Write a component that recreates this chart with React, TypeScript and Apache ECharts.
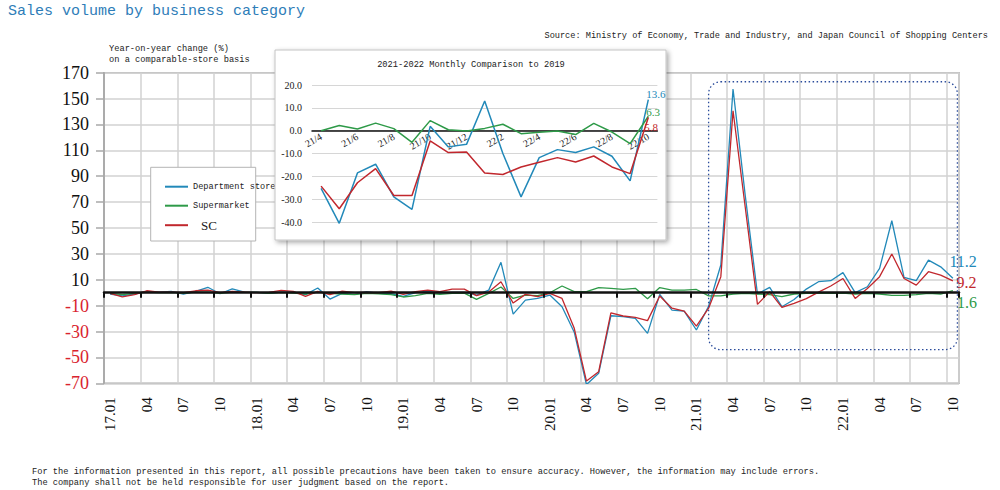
import React, { useEffect, useRef } from "react";
import * as echarts from "echarts";

// ---------- data ----------
const years = ["17", "18", "19", "20", "21", "22"];
const monthCodes = ["01", "02", "03", "04", "05", "06", "07", "08", "09", "10", "11", "12"];
const categories: string[] = [];
for (const y of years) {
  for (const m of monthCodes) {
    if (y === "22" && Number(m) > 10) break;
    categories.push(`${y}.${m}`);
  }
}

// Year-on-year change (%), 17.01 .. 22.10
const deptStore = [
  -1.0, -2.5, -1.0, 1.0, 0.5, 1.0, -1.0, 1.0, 4.2, -0.8, 3.0, 0.5,
  0.2, -0.5, 0.5, 0.5, -1.5, 3.6, -4.9, -0.5, -1.3, 0.8, -0.5, -0.8,
  -2.8, 0.0, 1.3, -0.3, 0.2, 0.2, -1.8, 2.0, 23.5, -16.5, -5.7, -4.4,
  -1.8, -10.8, -30.5, -71.0, -62.3, -17.8, -18.5, -19.8, -31.4, -1.3, -13.4, -14.2,
  -28.8, -10.5, 21.4, 157.4, 75.0, -1.0, 4.1, -10.8, -5.2, 2.8, 8.5, 9.3,
  15.5, 0.0, 4.6, 18.8, 55.6, 11.8, 9.3, 25.2, 20.0, 11.2,
];
const supermarket = [
  -0.5, -1.5, -0.5, 0.5, 0.0, 0.3, -0.5, 0.5, 0.5, -0.5, 0.5, 0.2,
  0.3, -0.5, 0.3, -0.3, -1.0, 0.5, -0.5, -1.0, -1.5, -0.5, -0.8, -1.5,
  -3.3, -2.3, -0.5, -1.2, -0.5, -0.3, -5.1, -0.5, 4.4, -4.4, -1.8, -2.3,
  0.0, 5.2, 0.8, 0.8, 4.0, 3.4, 2.6, 3.4, -4.6, 4.0, 2.0, 2.0,
  2.5, -2.5, -2.5, -1.0, -0.5, -1.0, -1.5, -3.0, -1.0, -0.5, -0.5, -0.5,
  -0.3, -1.0, -0.5, -1.0, -2.0, -2.0, -1.5, -0.5, -1.0, 1.6,
];
const shoppingCenter = [
  -0.5, -3.3, -1.5, 1.5, 0.5, 0.5, 0.0, 1.5, 2.0, 0.0, 1.0, 0.5,
  0.0, 0.3, 1.8, 1.0, -2.8, 1.0, -1.5, 1.3, 0.0, 0.3, 0.0, 1.3,
  -1.3, 0.8, 2.0, 0.8, 2.8, 2.8, -2.3, 0.5, 8.5, -8.0, -1.3, -3.0,
  -0.5, -4.4, -27.5, -68.3, -61.0, -15.5, -18.0, -19.0, -21.6, -2.6, -12.0, -14.2,
  -25.8, -12.0, 12.4, 140.6, 66.0, -9.0, 0.8, -11.3, -8.2, -4.6, 0.5, 5.2,
  11.0, -4.4, 3.3, 12.4, 29.9, 11.0, 5.9, 16.2, 13.6, 9.2,
];

// inset: 2021-2022 vs 2019
const insetCategories = [
  "21/4", "21/5", "21/6", "21/7", "21/8", "21/9", "21/10", "21/11", "21/12",
  "22/1", "22/2", "22/3", "22/4", "22/5", "22/6", "22/7", "22/8", "22/9", "22/10",
];
const insetDept = [-25.3, -40.6, -18.5, -14.7, -29.0, -34.5, 1.9, -7.1, -6.0, 13.0, -10.0, -29.0, -11.8, -8.3, -9.6, -7.1, -11.2, -22.0, 13.6];
const insetSC = [-24.3, -34.2, -22.8, -16.6, -28.4, -28.4, -4.5, -9.6, -9.3, -18.5, -19.2, -15.9, -13.8, -11.8, -13.7, -11.1, -15.9, -18.8, 5.8];
const insetSuper = [0.0, 2.3, 0.7, 3.3, 0.9, -5.1, 4.4, 0.4, -0.1, 1.0, 2.8, -1.3, -0.7, -0.1, -1.7, 3.2, -0.6, -5.7, 6.3];

const seriesNames = ["Department store", "Supermarket", "SC"];

// ---------- styles ----------
const SERIF = '"Liberation Serif", "Times New Roman", serif';
const MONO = '"Liberation Mono", "DejaVu Sans Mono", monospace';
const BLUE = "#2289B9";
const GREEN = "#2E9A48";
const RED = "#C1272D";

// inset plot geometry
const INSET_LEFT = 312;
const INSET_WIDTH = 345.4;
const INSET_TOP = 85;
const INSET_HEIGHT = 137;
const INSET_MIN = -40;
const INSET_MAX = 20;

function endLabel(color: string, offset: number[], fontSize: number) {
  return {
    show: true,
    distance: 5,
    offset,
    color,
    fontSize,
    fontFamily: SERIF,
    formatter: "{c}",
  };
}

function mainLine(name: string, color: string, data: number[], offset: number[]) {
  return {
    name,
    type: "line",
    xAxisIndex: 0,
    yAxisIndex: 0,
    color,
    symbol: "none",
    lineStyle: { width: 1.3, color },
    data,
    endLabel: endLabel(color, offset, 16),
    z: 2,
  };
}

function insetLine(name: string, color: string, data: number[], offset: number[]) {
  return {
    name,
    type: "line",
    xAxisIndex: 2,
    yAxisIndex: 1,
    color,
    symbol: "none",
    clip: false,
    lineStyle: { width: 1.5, color },
    data,
    endLabel: endLabel(color, offset, 11),
    z: 70,
  };
}

export default function App() {
  const ref = useRef<HTMLDivElement>(null);

  useEffect(() => {
    document.body.style.margin = "0";
    if (!ref.current) return;
    const chart = echarts.init(ref.current, null, { renderer: "svg" });

    const staticGraphics: any[] = [
      {
        id: "yTitle",
        type: "text",
        x: 109,
        y: 43.5,
        z: 5,
        style: {
          text: "Year-on-year change (%)\non a comparable-store basis",
          fontFamily: MONO,
          fontSize: 8.7,
          lineHeight: 11,
          fill: "#222",
          align: "left",
          verticalAlign: "top",
        },
      },
      {
        id: "source",
        type: "text",
        x: 988,
        y: 36,
        style: {
          text: "Source: Ministry of Economy, Trade and Industry, and Japan Council of Shopping Centers",
          fontFamily: MONO,
          fontSize: 8.6,
          fill: "#222",
          align: "right",
          verticalAlign: "middle",
        },
      },
      {
        id: "footer",
        type: "text",
        x: 32,
        y: 466,
        style: {
          text:
            "For the information presented in this report, all possible precautions have been taken to ensure accuracy. However, the information may include errors.\nThe company shall not be held responsible for user judgment based on the report.",
          fontFamily: MONO,
          fontSize: 8.7,
          lineHeight: 11,
          fill: "#222",
          align: "left",
          verticalAlign: "top",
        },
      },
      {
        id: "legendBox",
        type: "rect",
        z: 15,
        shape: { x: 150.7, y: 167.3, width: 105, height: 73.7 },
        style: { fill: "#fff", stroke: "#b4b4b4", lineWidth: 1 },
      },
      {
        id: "insetBox",
        type: "rect",
        z: 50,
        shape: { x: 275, y: 50, width: 391, height: 190 },
        style: {
          fill: "#fff",
          stroke: "#c4c4c4",
          lineWidth: 1,
          shadowBlur: 5,
          shadowColor: "rgba(0,0,0,0.35)",
          shadowOffsetX: 2,
          shadowOffsetY: 2,
        },
      },
      {
        id: "insetTitle",
        type: "text",
        z: 55,
        x: 471,
        y: 65,
        style: {
          text: "2021-2022 Monthly Comparison to 2019",
          fontFamily: MONO,
          fontSize: 8.7,
          fill: "#222",
          align: "center",
          verticalAlign: "middle",
        },
      },
    ];

    // height of the label grid = distance from the inset top to its zero line
    const insetZeroHeight = (INSET_HEIGHT * INSET_MAX) / (INSET_MAX - INSET_MIN);

    const option: any = {
      animation: false,
      backgroundColor: "#fff",
      title: {
        text: "Sales volume by business category",
        left: 8,
        top: 4,
        padding: 0,
        textStyle: { fontFamily: MONO, fontSize: 15, fontWeight: "normal", color: "#2E7DB8" },
      },
      legend: {
        data: seriesNames,
        orient: "vertical",
        left: 165,
        top: 180.7,
        padding: 0,
        itemGap: 7,
        itemWidth: 23,
        itemHeight: 2,
        icon: "rect",
        z: 20,
        formatter: (n: string) => (n === "SC" ? "{sc|SC}" : n),
        textStyle: {
          fontFamily: MONO,
          fontSize: 8.6,
          color: "#222",
          lineHeight: 12,
          rich: { sc: { fontFamily: SERIF, fontSize: 13, lineHeight: 12, color: "#222", padding: [0, 0, 0, 8] } },
        },
      },
      grid: [
        {
          left: 104,
          right: 41,
          top: 72.7,
          bottom: 106.7,
          show: true,
          borderColor: "#a8a8a8",
          borderWidth: 1.5,
          backgroundColor: "transparent",
        },
        { left: INSET_LEFT, width: INSET_WIDTH, top: INSET_TOP, height: INSET_HEIGHT },
        // carries only the inset's category labels, just under its zero line
        { left: INSET_LEFT, width: INSET_WIDTH, top: INSET_TOP, height: insetZeroHeight },
      ],
      xAxis: [
        {
          type: "category",
          gridIndex: 0,
          data: categories,
          boundaryGap: true,
          position: "bottom",
          axisLine: { show: false, onZero: false },
          axisTick: { show: false },
          axisLabel: {
            interval: 2,
            rotate: 90,
            margin: 14,
            fontFamily: SERIF,
            fontSize: 15,
            color: "#111",
            formatter: (v: string) => (v.endsWith(".01") ? v : v.slice(3)),
          },
          splitLine: { show: true, interval: 2, lineStyle: { color: "#d2d2d2", width: 1.5 } },
        },
        {
          type: "category",
          gridIndex: 0,
          data: categories,
          boundaryGap: true,
          position: "bottom",
          z: 3,
          axisLine: { show: true, onZero: true, lineStyle: { color: "#111", width: 2.5 } },
          axisTick: { show: true, interval: 2, length: 5, lineStyle: { color: "#111", width: 2 } },
          axisLabel: { show: false },
          splitLine: { show: false },
        },
        {
          type: "category",
          gridIndex: 1,
          data: insetCategories,
          boundaryGap: true,
          z: 60,
          axisLine: { show: true, onZero: true, lineStyle: { color: "#111", width: 1.5 } },
          axisTick: { show: false },
          axisLabel: { show: false },
          splitLine: { show: false },
        },
        {
          type: "category",
          gridIndex: 2,
          data: insetCategories,
          boundaryGap: true,
          position: "bottom",
          z: 61,
          axisLine: { show: false, onZero: false },
          axisTick: { show: false },
          axisLabel: {
            interval: 1,
            rotate: 30,
            margin: 5,
            fontFamily: SERIF,
            fontSize: 10,
            color: "#222",
          },
          splitLine: { show: false },
        },
      ],
      yAxis: [
        {
          type: "value",
          gridIndex: 0,
          min: -70,
          max: 170,
          interval: 20,
          axisLine: { show: true, lineStyle: { color: "#a0a0a0", width: 1.5 } },
          axisTick: { show: true, length: 8, lineStyle: { color: "#a8a8a8", width: 1.5 } },
          axisLabel: {
            margin: 15,
            fontFamily: SERIF,
            fontSize: 18,
            color: (v: any) => (Number(v) < 0 ? "#D9232E" : "#111"),
          },
          splitLine: { show: true, lineStyle: { color: "#d2d2d2", width: 1.5 } },
        },
        {
          type: "value",
          gridIndex: 1,
          min: INSET_MIN,
          max: INSET_MAX,
          interval: 10,
          z: 60,
          axisLine: { show: false },
          axisTick: { show: false },
          axisLabel: {
            margin: 10,
            fontFamily: SERIF,
            fontSize: 10,
            color: "#222",
            formatter: (v: number) => v.toFixed(1),
          },
          splitLine: { show: true, lineStyle: { color: "#d6d6d6", width: 1 } },
        },
        {
          type: "value",
          gridIndex: 2,
          min: 0,
          max: INSET_MAX,
          show: false,
        },
      ],
      series: [
        mainLine(seriesNames[0], BLUE, deptStore, [-8.5, -16.5]),
        mainLine(seriesNames[1], GREEN, supermarket, [-1, 12]),
        mainLine(seriesNames[2], RED, shoppingCenter, [-1.5, 2]),
        insetLine(seriesNames[0], BLUE, insetDept, [-7, -6]),
        insetLine(seriesNames[1], GREEN, insetSuper, [-7, -4]),
        insetLine(seriesNames[2], RED, insetSC, [-9, 10]),
      ],
      graphic: { elements: staticGraphics },
    };

    chart.setOption(option);

    // dotted highlight box around 2021-2022, placed through the axes' own scales
    const x1 = chart.convertToPixel({ xAxisIndex: 0 }, 49) as number;
    const x2 = (chart.convertToPixel({ xAxisIndex: 0 }, 69) as number) + 4.5;
    const y1 = chart.convertToPixel({ yAxisIndex: 0 }, 163) as number;
    const y2 = chart.convertToPixel({ yAxisIndex: 0 }, -44) as number;
    chart.setOption({
      graphic: {
        elements: [
          ...staticGraphics,
          {
            id: "highlight",
            type: "rect",
            z: 10,
            shape: { x: x1, y: y1, width: x2 - x1, height: y2 - y1, r: 12 },
            style: { fill: "none", stroke: "#2B4C9B", lineWidth: 1.3, lineDash: [1.5, 2.5] },
          },
        ],
      },
    });

    return () => chart.dispose();
  }, []);

  return (
    <div
      ref={ref}
      style={{ position: "absolute", left: 0, top: 0, width: 1000, height: 490, background: "#fff" }}
    />
  );
}
